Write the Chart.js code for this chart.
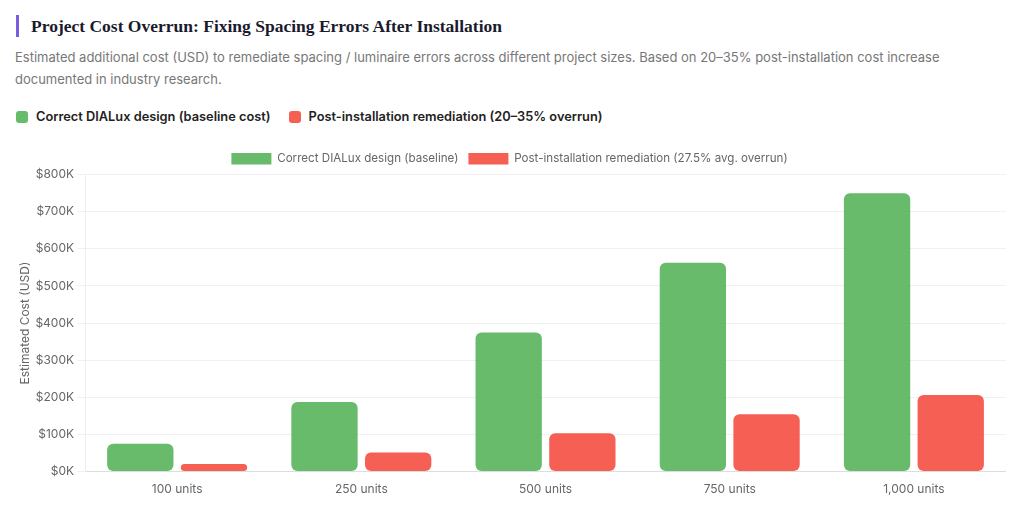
<!DOCTYPE html>
<html>
<head>
<meta charset="utf-8">
<script src="https://cdn.jsdelivr.net/npm/chart.js@4"></script>
<style>
  html, body { margin: 0; padding: 0; background: #fff; }
  body { width: 1024px; height: 518px; overflow: hidden; font-family: Inter, "Noto Sans", sans-serif; }
  .title {
    position: absolute; left: 16px; top: 15px;
    padding-left: 12px; border-left: 3px solid #7b5ce0;
    font-family: "Liberation Serif", serif; font-weight: bold; font-size: 17.5px;
    color: #1a1a2e; line-height: 22px;
  }
  .sub {
    position: absolute; left: 15px; top: 46px; width: 960px;
    font-size: 13px; line-height: 22px; color: #777;
  }
  .legend {
    position: absolute; left: 16px; top: 109px; display: flex; gap: 18px;
    font-size: 12.8px; font-weight: 600; color: #222;
  }
  .legend span { display: flex; align-items: center; }
  .legend i { width: 12px; height: 12px; border-radius: 3px; margin-right: 8px; display: inline-block; }
  .wrap { position: absolute; left: 13px; top: 143px; width: 993px; height: 357px; }
</style>
</head>
<body>
<div class="title">Project Cost Overrun: Fixing Spacing Errors After Installation</div>
<div class="sub">Estimated additional cost (USD) to remediate spacing / luminaire errors across different project sizes. Based on 20–35% post-installation cost increase documented in industry research.</div>
<div class="legend">
  <span><i style="background:#67bb6a"></i>Correct DIALux design (baseline cost)</span>
  <span><i style="background:#f65f54"></i>Post-installation remediation (20–35% overrun)</span>
</div>
<div class="wrap"><canvas id="costChart"></canvas></div>

<script>
// project sizes and costs (USD)
const categories = ["100 units", "250 units", "500 units", "750 units", "1,000 units"];
const baselineCost = [75000, 187500, 375000, 562500, 750000];
const remediationCost = [20625, 51563, 103125, 154688, 206250];

document.addEventListener('DOMContentLoaded', function () {
    const ctx = document.getElementById('costChart');

    new Chart(ctx, {
        type: 'bar',
        data: {
            labels: categories,
            datasets: [
                {
                    label: 'Correct DIALux design (baseline)',
                    data: baselineCost,
                    backgroundColor: 'rgba(76, 175, 80, 0.85)',
                    borderRadius: 6,
                    borderSkipped: false,
                },
                {
                    label: 'Post-installation remediation (27.5% avg. overrun)',
                    data: remediationCost,
                    backgroundColor: 'rgba(244, 67, 54, 0.85)',
                    borderRadius: 6,
                    borderSkipped: false,
                },
            ],
        },
        options: {
            responsive: true,
            maintainAspectRatio: false,
            animation: false,
            plugins: {
                legend: {
                    position: 'top',
                    labels: { color: '#666', font: { family: 'Inter', size: 11.6 } },
                },
                tooltip: { enabled: false },
            },
            scales: {
                x: {
                    grid: { display: false },
                    border: { color: '#ddd' },
                    ticks: { color: '#666', font: { family: 'Inter', size: 12 } },
                },
                y: {
                    beginAtZero: true,
                    max: 800000,
                    grid: { color: '#f0f0f0' },
                    border: { color: '#eee' },
                    ticks: {
                        stepSize: 100000,
                        color: '#666',
                        font: { family: 'Inter', size: 12 },
                        callback: v => '$' + (v / 1000) + 'K',
                    },
                    title: {
                        display: true,
                        text: 'Estimated Cost (USD)',
                        color: '#666',
                        font: { family: 'Inter', size: 12 },
                        padding: { top: 5, bottom: 0 },
                    },
                },
            },
        },
    });
});
</script>
</body>
</html>
